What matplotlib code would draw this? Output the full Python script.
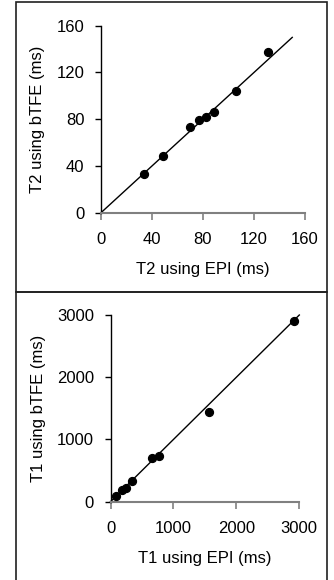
import matplotlib
matplotlib.use('Agg')
import matplotlib.pyplot as plt
from matplotlib.patches import Rectangle

plt.rcParams['font.family'] = ['Liberation Sans', 'DejaVu Sans']

# T2 panel data (ms)
t2_epi = [33.8, 49.0, 69.9, 77.2, 82.7, 88.7, 105.9, 130.6]
t2_btfe = [33.1, 48.5, 73.4, 79.4, 82.0, 86.0, 104.2, 137.4]
t2_line = [0, 150]
t2_ticks = [0, 40, 80, 120, 160]

# T1 panel data (ms)
t1_epi = [80, 180, 244, 339, 652, 769, 1569, 2915]
t1_btfe = [86, 188, 214, 327, 702, 739, 1441, 2904]
t1_line = [0, 3000]
t1_ticks = [0, 1000, 2000, 3000]

W, H = 334, 580
fig = plt.figure(figsize=(W / 100, H / 100), dpi=100)

def px_axes(left, right, top, bottom):
    return fig.add_axes([left / W, 1 - bottom / H, (right - left) / W, (bottom - top) / H])

def style_ax(ax, ticks, xlabel, ylabel):
    for pos in ['right', 'top']:
        ax.spines[pos].set_visible(False)
    ax.spines['left'].set_color('black')
    ax.spines['bottom'].set_color('#808080')
    ax.spines['left'].set_linewidth(1.0)
    ax.spines['bottom'].set_linewidth(1.5)
    ax.set_xlim(ticks[0], ticks[-1])
    ax.set_ylim(ticks[0], ticks[-1])
    ax.set_xticks(ticks)
    ax.set_yticks(ticks)
    ax.tick_params(axis='x', direction='out', length=5, width=1.2, colors='#808080',
                   labelcolor='black', labelsize=12, pad=9)
    ax.tick_params(axis='y', direction='out', length=4, width=1, colors='black',
                   labelsize=12, pad=8)
    ax.set_xlabel(xlabel, fontsize=12, labelpad=11)
    ax.set_ylabel(ylabel, fontsize=12, labelpad=8)

ax1 = px_axes(101, 305, 25.7, 212.7)
ax1.plot(t2_line, t2_line, color='black', lw=1, clip_on=False)
ax1.scatter(t2_epi, t2_btfe, s=32, color='black', zorder=3, clip_on=False)
style_ax(ax1, t2_ticks, 'T2 using EPI (ms)', 'T2 using bTFE (ms)')

ax2 = px_axes(110.5, 299.3, 315, 501.7)
ax2.plot(t1_line, t1_line, color='black', lw=1, clip_on=False)
ax2.scatter(t1_epi, t1_btfe, s=32, color='black', zorder=3, clip_on=False)
style_ax(ax2, t1_ticks, 'T1 using EPI (ms)', 'T1 using bTFE (ms)')

# panel frames
for top, bottom in [(2, 292), (292, 582)]:
    fig.patches.append(Rectangle((15.5 / W, 1 - bottom / H), (327 - 15.5) / W,
                                 (bottom - top) / H, transform=fig.transFigure,
                                 fill=False, edgecolor='#202020', lw=1.2))

fig.savefig('out.png', dpi=100)
